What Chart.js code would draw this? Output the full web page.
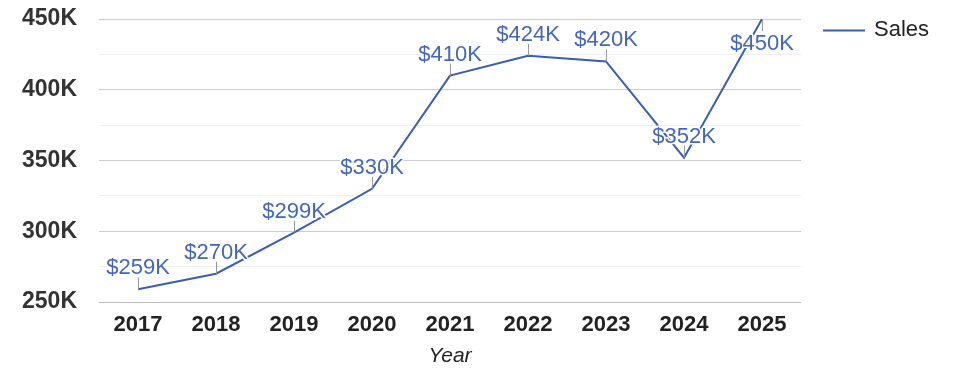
<!DOCTYPE html>
<html>
<head>
<meta charset="utf-8">
<script src="https://cdn.jsdelivr.net/npm/chart.js@4/dist/chart.umd.min.js"></script>
<style>
  html, body { margin: 0; padding: 0; background: #fff; }
  #wrap { width: 975px; height: 378px; }
</style>
</head>
<body>
<div id="wrap"><canvas id="c" width="975" height="378"></canvas></div>
<script>
const years = ['2017', '2018', '2019', '2020', '2021', '2022', '2023', '2024', '2025'];
const sales = [259000, 270000, 299000, 330000, 410000, 424000, 420000, 352000, 450000];
const seriesName = 'Sales';
const axisTitle = 'Year';
const yMin = 250000, yMax = 450000, yStep = 25000;

const FONT = "'Liberation Sans', Arial, sans-serif";
const LINE_COLOR = '#3a5db0';
const LABEL_COLOR = '#4466b8';

const kFmt = v => (v / 1000) + 'K';

const dataLabels = {
  id: 'dataLabels',
  afterDatasetsDraw(chart) {
    const ctx = chart.ctx;
    const meta = chart.getDatasetMeta(0);
    const ds = chart.data.datasets[0];
    const area = chart.chartArea;
    ctx.save();
    ctx.font = '22px ' + FONT;
    ctx.textAlign = 'center';
    meta.data.forEach((pt, i) => {
      const txt = '$' + kFmt(ds.data[i]);
      const above = pt.y - 30 > area.top;
      ctx.strokeStyle = '#999';
      ctx.lineWidth = 1;
      ctx.beginPath();
      const x = Math.round(pt.x) + 0.5;
      if (above) { ctx.moveTo(x, pt.y); ctx.lineTo(x, pt.y - 12); }
      else { ctx.moveTo(x, pt.y); ctx.lineTo(x, pt.y + 12); }
      ctx.stroke();
      const ty = above ? pt.y - 15 : pt.y + 31;
      ctx.textBaseline = 'alphabetic';
      ctx.lineJoin = 'round';
      ctx.lineWidth = 3;
      ctx.strokeStyle = '#fff';
      ctx.strokeText(txt, pt.x, ty);
      ctx.fillStyle = LABEL_COLOR;
      ctx.fillText(txt, pt.x, ty);
    });
    ctx.restore();
  }
};

const sideLegend = {
  id: 'sideLegend',
  afterDraw(chart) {
    const ctx = chart.ctx;
    const ds = chart.data.datasets[0];
    const x0 = chart.chartArea.right + 22;
    const y = 30;
    ctx.save();
    ctx.strokeStyle = ds.borderColor;
    ctx.lineWidth = 2;
    ctx.beginPath();
    ctx.moveTo(x0, y + 0.5);
    ctx.lineTo(x0 + 42, y + 0.5);
    ctx.stroke();
    ctx.font = '22px ' + FONT;
    ctx.fillStyle = '#222';
    ctx.textBaseline = 'middle';
    ctx.textAlign = 'left';
    ctx.fillText(ds.label, x0 + 51, y);
    ctx.restore();
  }
};

new Chart(document.getElementById('c'), {
  type: 'line',
  data: {
    labels: years,
    datasets: [{
      label: seriesName,
      data: sales,
      borderColor: LINE_COLOR,
      backgroundColor: LINE_COLOR,
      borderWidth: 2,
      pointRadius: 0,
      pointHoverRadius: 0,
      tension: 0,
      fill: false
    }]
  },
  options: {
    responsive: false,
    animation: false,
    events: [],
    layout: { padding: { top: 19, right: 174, bottom: 0, left: 0 } },
    plugins: {
      legend: { display: false },
      tooltip: { enabled: false }
    },
    scales: {
      x: {
        offset: true,
        grid: { display: false, drawTicks: false },
        border: { display: false },
        ticks: {
          padding: 10,
          color: '#222',
          font: { family: FONT, size: 22, weight: 'bold' },
          maxRotation: 0,
          autoSkip: false
        },
        title: {
          display: true,
          text: axisTitle,
          color: '#222',
          font: { family: FONT, size: 21, style: 'italic' },
          padding: { top: 4, bottom: 9 }
        },
        afterFit(s) { s.height = 76; }
      },
      y: {
        min: yMin,
        max: yMax,
        border: { display: false },
        grid: {
          drawTicks: false,
          color: c => (c.tick.value % 50000 === 0) ? (c.tick.value === yMin ? '#bbb' : '#ccc') : '#eee',
          lineWidth: 1
        },
        ticks: {
          stepSize: yStep,
          padding: 22,
          color: '#333',
          font: { family: FONT, size: 23, weight: 'bold' },
          callback: v => (v % 50000 === 0) ? kFmt(v) : ''
        },
        afterFit(s) { s.width = 99; s.paddingTop = 0; s.paddingBottom = 0; }
      }
    }
  },
  plugins: [dataLabels, sideLegend]
});
</script>
</body>
</html>
